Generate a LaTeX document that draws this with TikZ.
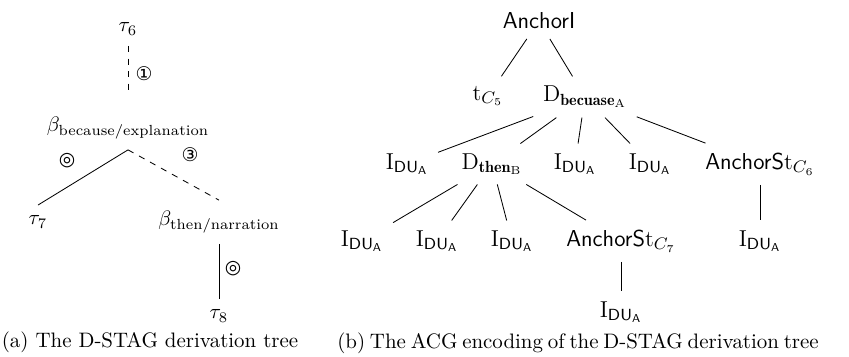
\documentclass[tikz,border=0pt]{standalone}
\usepackage{amsmath,amssymb}
\usepackage{fontspec}
\newfontfamily\dejavu{DejaVu Sans}
\usepackage{tikz}

\newcommand{\idua}{$\mathrm{I}_{\mathsf{DU}_{\mathsf{A}}}$}

\begin{document}
\begin{tikzpicture}[
        x=0.478pt,y=-0.478pt,
        dnode/.style={inner sep=5pt},
        anode/.style={inner sep=4.5pt,font=\fontsize{11}{13}\selectfont},
        slot/.style={inner sep=0pt,font=\dejavu\small}
      ]
      \useasboundingbox (0,0) rectangle (849,356);
      % (a) derivation tree
      \node (t6) [dnode] at (128,29) {$\tau_6$};
      \node (bexp) [dnode] at (128,128) {$\beta_{\text{because/explanation}}$};
      \node (t7) [dnode] at (38,222) {$\tau_7$};
      \node (bnar) [dnode] at (219,222) {$\beta_{\text{then/narration}}$};
      \node (t8) [dnode] at (219,316) {$\tau_8$};
      \draw[dashed,shorten >=7pt] (t6.south) -- (bexp.north);
      \draw (bexp.south) -- (t7.north);
      \draw[dashed] (bexp.south) -- (bnar.north);
      \draw (bnar.south) -- (t8.north);
      \node (s1) [slot] at (144,74) {①};
      \node (s0) [slot] at (67,161) {◎};
      \node (s3) [slot] at (190,155) {③};
      \node (s0b) [slot] at (233,269) {◎};
      % (b) ACG encoding
      \node (anc) [anode] at (539,21) {\textsf{AnchorI}};
      \node (tc5) [anode] at (488,96) {$\mathrm{t}_{C_5}$};
      \node (dbec) [anode] at (585,97) {$\mathrm{D}_{\mathbf{becuase}_{\mathrm{A}}}$};
      \node (i1) [anode] at (407,164) {\idua};
      \node (dthen) [anode] at (492,164) {$\mathrm{D}_{\mathbf{then}_{\mathrm{B}}}$};
      \node (i2) [anode] at (575,164) {\idua};
      \node (i3) [anode] at (650,164) {\idua};
      \node (as6) [anode] at (760,164) {\textsf{AnchorS}$\mathrm{t}_{C_6}$};
      \node (i4) [anode] at (362,241) {\idua};
      \node (i5) [anode] at (437,241) {\idua};
      \node (i6) [anode] at (512,241) {\idua};
      \node (as7) [anode] at (621,241) {\textsf{AnchorS}$\mathrm{t}_{C_7}$};
      \node (i7) [anode] at (760,241) {\idua};
      \node (i8) [anode] at (621,312) {\idua};
      \draw (anc) -- (tc5)
      (anc) -- (dbec);
      \draw (dbec) -- (i1)
      (dbec) -- (dthen)
      (dbec) -- (i2)
      (dbec) -- (i3)
      (dbec) -- (as6);
      \draw (dthen) -- (i4)
      (dthen) -- (i5)
      (dthen) -- (i6)
      (dthen) -- (as7);
      \draw (as6) -- (i7);
      \draw (as7) -- (i8);
      % captions
      \node (capa) at (150,342) {(a) The D-STAG derivation tree};
      \node (capb) at (578,343) {\spaceskip=2.3pt\relax (b) The ACG encoding of the D-STAG derivation tree};
    \end{tikzpicture}
\end{document}
